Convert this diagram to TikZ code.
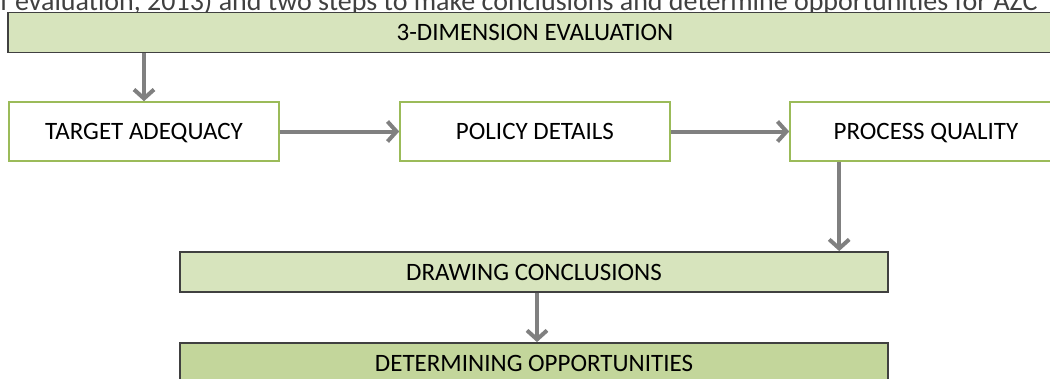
\documentclass[tikz,border=0pt]{standalone}
\usepackage{fontspec}
\setmainfont{Carlito}
\usetikzlibrary{arrows.meta,calc}
\definecolor{lightgreen}{HTML}{D7E4BD}
\definecolor{midgreen}{HTML}{C3D69B}
\definecolor{edgegreen}{HTML}{9BBB59}
\definecolor{darkedge}{HTML}{404040}
\definecolor{arrowgray}{HTML}{808080}
\begin{document}
\begin{tikzpicture}[x=1pt,y=-1pt,
  greenbar/.style={draw=darkedge,line width=1.8pt,fill=lightgreen,minimum height=40pt,inner sep=0pt,text height=16pt,text depth=0pt,font=\fontsize{25}{27}\selectfont,text=black},
  whitebox/.style={draw=edgegreen,line width=1.6pt,fill=white,minimum width=270pt,minimum height=59pt,inner sep=0pt,text height=16pt,text depth=0pt,font=\fontsize{25}{27}\selectfont,text=black},
  flow/.style={draw=arrowgray,line width=4pt,-{Straight Barb[length=9pt,width=20pt]}}]
\useasboundingbox (0,0) rectangle (1050,378);
\begin{scope}
\clip (0,0) rectangle (1050,378);
\node[anchor=base west,inner sep=0pt,text=darkedge,font=\fontsize{28}{30}\selectfont] (caption) at (0,10) {f evaluation, 2013) and two steps to make conclusions and determine opportunities for AZC};
\node[greenbar,minimum width=1054pt] (top) at (535,32.5) {3-DIMENSION EVALUATION};
\node[whitebox] (target) at (144,131.5) {TARGET ADEQUACY};
\node[whitebox] (policy) at (535,131.5) {POLICY DETAILS};
\node[whitebox,minimum width=272pt] (process) at (926,131.5) {PROCESS QUALITY};
\node[greenbar,minimum width=708pt] (drawing) at (534,272) {DRAWING CONCLUSIONS};
\node[greenbar,minimum width=708pt,fill=midgreen] (determining) at (534,363) {DETERMINING OPPORTUNITIES};
\coordinate (pqdown) at ($(process.south west)+(50,0)$);
\draw[flow] (top.south -| target.north) -- (target.north);
\draw[flow] (target.east) -- (policy.west);
\draw[flow] (policy.east) -- (process.west);
\draw[flow] (pqdown) -- (pqdown |- drawing.north);
\draw[flow] ($(drawing.south)+(3,0)$) -- ($(determining.north)+(3,0)$);
\end{scope}
\end{tikzpicture}
\end{document}
